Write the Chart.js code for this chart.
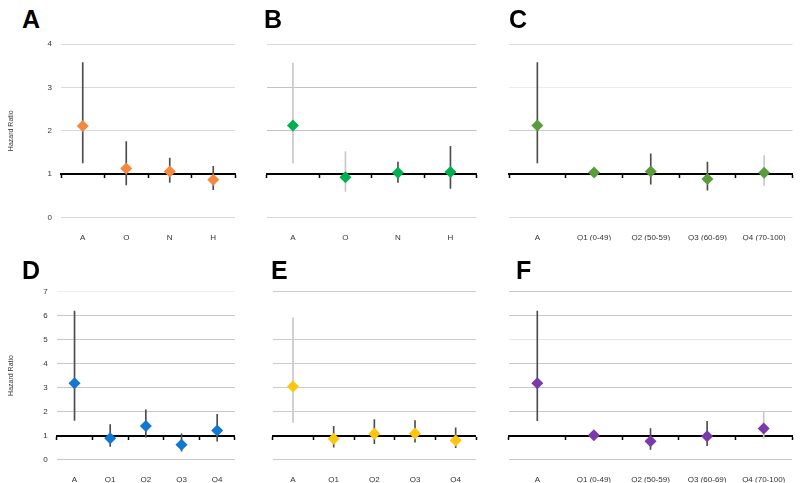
<!DOCTYPE html>
<html>
<head>
<meta charset="utf-8">
<script src="https://cdn.jsdelivr.net/npm/chart.js@4.4.1/dist/chart.umd.min.js"></script>
<style>
  body { margin:0; background:#fff; width:800px; height:483px; overflow:hidden; position:relative; }
  canvas { position:absolute; left:0; top:0; }
  .tag { position:absolute; font:bold 25px "Liberation Sans", Arial, sans-serif; line-height:1; color:#000; }
</style>
</head>
<body>
<script>
// ── categories ─────────────────────────────────────────
const catsAONH   = ['A', 'O', 'N', 'H'];
const catsQ      = ['A', 'Q1', 'Q2', 'Q3', 'Q4'];
const catsQRange = ['A', 'Q1 (0-49)', 'Q2 (50-59)', 'Q3 (60-69)', 'Q4 (70-100)'];

// y tick ranges (top row / bottom row)
const yTicksTop    = [0, 1, 2, 3, 4];
const yTicksBottom = [0, 1, 2, 3, 4, 5, 6, 7];

// ── hazard ratios + 95% CI ─────────────────────────────
const hrA = [2.11, 1.13, 1.06, 0.87];
const loA = [1.26, 0.75, 0.81, 0.64];
const hiA = [3.57, 1.75, 1.37, 1.18];

const hrB = [2.12, 0.93, 1.03, 1.05];
const loB = [1.26, 0.60, 0.81, 0.67];
const hiB = [3.56, 1.52, 1.28, 1.64];

const hrC = [2.12, 1.04, 1.06, 0.89, 1.03];
const loC = [1.26, 0.96, 0.77, 0.63, 0.74];
const hiC = [3.57, 1.12, 1.47, 1.28, 1.43];

const hrD = [3.18, 0.89, 1.40, 0.61, 1.21];
const loD = [1.63, 0.54, 0.93, 0.35, 0.76];
const hiD = [6.18, 1.45, 2.07, 1.07, 1.88];

const hrE = [3.04, 0.86, 1.07, 1.08, 0.79];
const loE = [1.55, 0.51, 0.66, 0.72, 0.49];
const hiE = [5.90, 1.38, 1.66, 1.62, 1.32];

const hrF = [3.18, 1.01, 0.76, 0.97, 1.29];
const loF = [1.62, 0.93, 0.42, 0.58, 0.88];
const hiF = [6.18, 1.09, 1.29, 1.59, 1.98];

// which CI whiskers are drawn pale in the original
const paleA = [0, 0, 0, 0];
const paleB = [1, 1, 0, 0];
const paleC = [0, 0, 0, 0, 1];
const paleD = [0, 0, 0, 0, 0];
const paleE = [1, 0, 0, 0, 0];
const paleF = [0, 0, 0, 0, 1];

const FONT = '"Liberation Sans", Arial, sans-serif';

// box = chart area [left, top, right, bottom] in page px
const panels = [
  { tag:'A', tagAt:[22, 7],   labels:catsAONH,   hr:hrA, lo:loA, hi:hiA, pale:paleA, ticks:yTicksTop,    color:'#F5883F', box:[61, 44, 235, 217.5],    yAxis:true,  grid:'#dadada', gridAlt:{} },
  { tag:'B', tagAt:[264, 7],  labels:catsAONH,   hr:hrB, lo:loB, hi:hiB, pale:paleB, ticks:yTicksTop,    color:'#00B050', box:[266.7, 44, 476.7, 217.5], yAxis:false, grid:'#d8d8d8', gridAlt:{2:'#c2c2c2', 3:'#c2c2c2'} },
  { tag:'C', tagAt:[509, 7],  labels:catsQRange, hr:hrC, lo:loC, hi:hiC, pale:paleC, ticks:yTicksTop,    color:'#5A9B3C', box:[509, 44, 792.5, 217.5],  yAxis:false, grid:'#dcdcdc', gridAlt:{2:'#cccccc', 3:'#ececec'} },
  { tag:'D', tagAt:[22, 258], labels:catsQ,      hr:hrD, lo:loD, hi:hiD, pale:paleD, ticks:yTicksBottom, color:'#1177D1', box:[56.7, 291.5, 235, 459.5], yAxis:true,  grid:'#c8c8c8', gridAlt:{7:'#ececec'} },
  { tag:'E', tagAt:[271, 258],labels:catsQ,      hr:hrE, lo:loE, hi:hiE, pale:paleE, ticks:yTicksBottom, color:'#FFC50D', box:[272.7, 291.5, 476, 459.5], yAxis:false, grid:'#cccccc', gridAlt:{6:'rgba(0,0,0,0)'} },
  { tag:'F', tagAt:[516, 258],labels:catsQRange, hr:hrF, lo:loF, hi:hiF, pale:paleF, ticks:yTicksBottom, color:'#7A3AAB', box:[509, 291.5, 792, 459.5],  yAxis:false, grid:'#c8c8c8', gridAlt:{5:'#e6e6e6'} },
];

panels.forEach(p => {
  const tag = document.createElement('div');
  tag.className = 'tag';
  tag.style.left = p.tagAt[0] + 'px';
  tag.style.top  = p.tagAt[1] + 'px';
  tag.textContent = p.tag;
  document.body.appendChild(tag);

  const cv = document.createElement('canvas');
  cv.width = 800; cv.height = 483;
  document.body.appendChild(cv);

  const [l, t, r, b] = p.box;
  const yW = p.yAxis ? l : 0;
  const xH = 23;

  new Chart(cv, {
    type: 'bar',
    data: {
      labels: p.labels,
      datasets: [
        { type: 'line', data: p.hr, showLine: false, pointStyle: 'rectRot', pointRadius: 6,
          pointBackgroundColor: p.color, pointBorderWidth: 0, order: 0 },
        { type: 'bar', data: p.lo.map((v, i) => [v, p.hi[i]]), barThickness: 1,
          backgroundColor: p.pale.map(f => f ? '#c8c8c8' : '#4d4d4d'), order: 1 },
      ],
    },
    options: {
      responsive: false,
      animation: false,
      events: [],
      layout: { padding: { left: l - yW, top: t, right: 800 - r, bottom: 483 - b - xH } },
      plugins: { legend: { display: false }, tooltip: { enabled: false } },
      scales: {
        x: {
          offset: true,
          grid: { display: false },
          border: { display: false },
          ticks: { color: '#333', padding: 7, maxRotation: 0, font: { size: 8, family: FONT } },
          afterFit: s => { s.height = xH; },
        },
        // reference line at HR = 1 with category ticks
        x2: {
          type: 'category', axis: 'x', position: { y: 1 }, offset: true,
          grid: { offset: true, drawOnChartArea: false, tickLength: 3, tickWidth: 1.5, tickColor: '#000' },
          border: { color: '#000', width: 2 },
          ticks: { display: false },
        },
        y: {
          min: Math.min(...p.ticks), max: Math.max(...p.ticks),
          ticks: { stepSize: 1, display: p.yAxis, padding: 9, color: '#333', font: { size: 8, family: FONT } },
          grid: { drawTicks: false, color: c => p.gridAlt[c.tick.value] || p.grid },
          border: { display: false },
          title: { display: p.yAxis, text: 'Hazard Ratio', color: '#333', padding: { top: 7, bottom: 0 },
                   font: { size: 7, family: FONT } },
          afterFit: s => { s.width = yW; },
        },
      },
    },
  });
});
</script>
</body>
</html>
